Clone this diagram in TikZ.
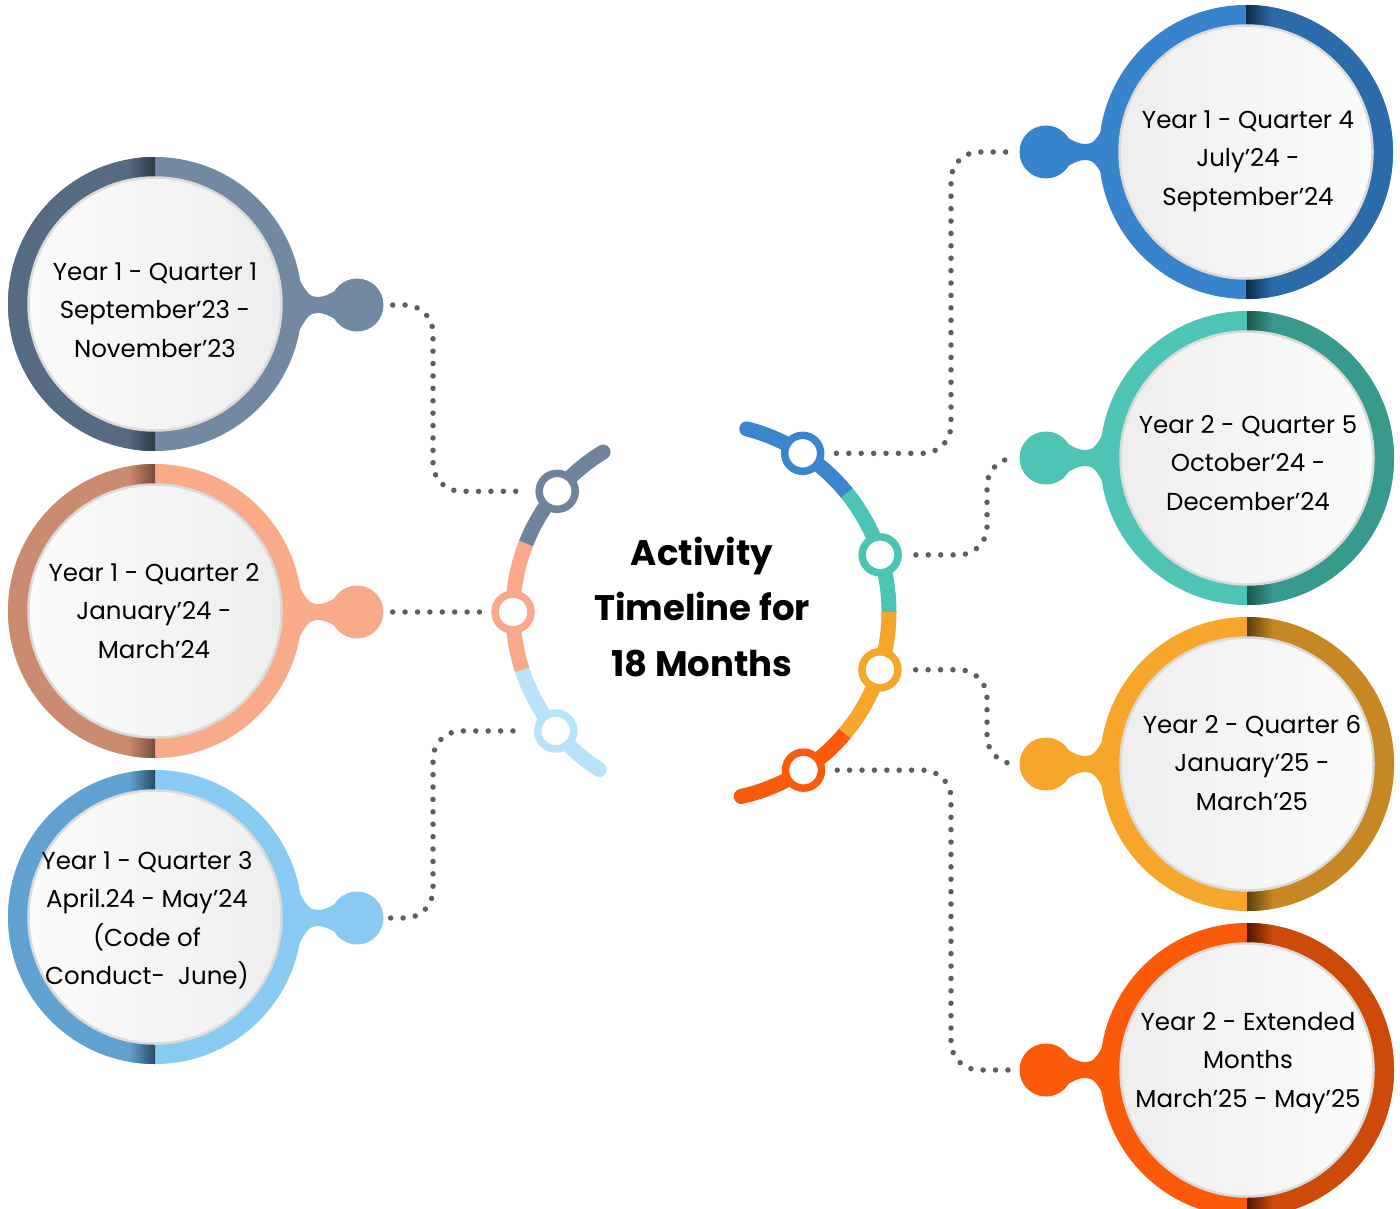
\documentclass[tikz,border=0pt]{standalone}
\usepackage{fontspec}
\setmainfont{Poppins}
\usetikzlibrary{calc}

% ring colours: base, shaded half, shade next to the split
\definecolor{slateA}{HTML}{7289A1}\definecolor{slateB}{HTML}{566A81}\definecolor{slateC}{HTML}{2C3845}
\definecolor{peachA}{HTML}{F9AA89}\definecolor{peachB}{HTML}{CB8B70}\definecolor{peachC}{HTML}{744B3B}
\definecolor{skyA}{HTML}{88CAF2}\definecolor{skyB}{HTML}{62A2D0}\definecolor{skyC}{HTML}{284A62}
\definecolor{blueA}{HTML}{3784CC}\definecolor{blueB}{HTML}{2C6BAA}\definecolor{blueC}{HTML}{0F2B48}
\definecolor{tealA}{HTML}{4DC4B4}\definecolor{tealB}{HTML}{389A8D}\definecolor{tealC}{HTML}{1C5650}
\definecolor{amberA}{HTML}{F6A62B}\definecolor{amberB}{HTML}{C78823}\definecolor{amberC}{HTML}{5A3F0D}
\definecolor{redA}{HTML}{FB5A0B}\definecolor{redB}{HTML}{CE4A0A}\definecolor{redC}{HTML}{4C1904}
% central arc colours
\definecolor{arcSlate}{HTML}{6E849C}
\definecolor{arcPeach}{HTML}{F9A98A}
\definecolor{arcSky}{HTML}{B9E3FA}
\definecolor{arcBlue}{HTML}{3A86CE}
\definecolor{arcTeal}{HTML}{4CC4B4}
\definecolor{arcAmber}{HTML}{F6A62B}
\definecolor{arcRed}{HTML}{FB5A0B}
\definecolor{dotgray}{HTML}{5E5E5E}
\definecolor{discLight}{HTML}{FBFBFB}
\definecolor{discDark}{HTML}{EEEEEE}
\definecolor{discEdge}{HTML}{DADADA}

% dial with the shaded half on the left: #1 centre, #2 base, #3 shaded half, #4 shade at the split
\newcommand\dialleft[4]{%
  \fill[#2] (#1) circle (147);
  \begin{scope}
    \clip (#1) circle (147);
    \fill[#3] ($(#1)+(-150,-150)$) rectangle ($(#1)+(0,150)$);
    \shade[left color=#3, right color=#4] ($(#1)+(-26,-150)$) rectangle ($(#1)+(0,150)$);
  \end{scope}
  \shade[left color=discLight, right color=discDark] (#1) circle (126);
  \draw[discEdge, line width=2.5] (#1) circle (126.5);
}
% dial with the shaded half on the right
\newcommand\dialright[4]{%
  \fill[#2] (#1) circle (147);
  \begin{scope}
    \clip (#1) circle (147);
    \fill[#3] ($(#1)+(0,-150)$) rectangle ($(#1)+(150,150)$);
    \shade[left color=#4, right color=#3] ($(#1)+(0,-150)$) rectangle ($(#1)+(26,150)$);
  \end{scope}
  \shade[left color=discDark, right color=discLight] (#1) circle (126);
  \draw[discEdge, line width=2.5] (#1) circle (126.5);
}
% neck joining a knob to its dial: #1 knob, #2 colour, #3 side (1: dial on the left, -1: on the right)
\newcommand\knobneck[3]{%
  \begin{scope}[shift={(#1.center)}, xscale=#3]
    \fill[#2] (-61,-32) .. controls (-51,-12) and (-47,-8) .. (-40,-8)
      .. controls (-32,-8) and (-28,-11) .. (-22,-14) -- (0,0) -- (-22,14)
      .. controls (-28,11) and (-32,8) .. (-40,8)
      .. controls (-47,8) and (-51,12) .. (-61,32) -- cycle;
  \end{scope}
}

\begin{document}
\begin{tikzpicture}[x=1pt, y=-1pt,
  knob/.style={circle, fill=#1, minimum size=53pt, inner sep=0pt},
  hub/.style={circle, draw=#1, fill=white, line width=7.5pt, minimum size=36pt, inner sep=0pt},
  dotline/.style={draw=dotgray, line width=5.5pt, line cap=round,
    dash pattern=on 0pt off 12.4pt, rounded corners=28pt},
  arcband/.style={line width=15pt, draw=#1},
  qtext/.style={align=center, text=black, font=\fontsize{24.5}{38.5}\selectfont},
  title/.style={align=center, text=black, font=\fontsize{35.5}{55.5}\selectfont\bfseries}
]
\useasboundingbox (0,0) rectangle (1400,1209);

% ---- central arcs -------------------------------------------------
\coordinate (ctr) at (700,612);
\draw[arcband=arcSlate, line cap=round] ($(ctr)+(-121.2:187)$) arc[start angle=-121.2, end angle=-158.5, radius=187];
\draw[arcband=arcSky, line cap=round] ($(ctr)+(-198:187)$) arc[start angle=-198, end angle=-237.4, radius=187];
\draw[arcband=arcPeach] ($(ctr)+(-158.5:187)$) arc[start angle=-158.5, end angle=-198, radius=187];

\draw[arcband=arcBlue, line cap=round] ($(ctr)+(-75.7:189)$) arc[start angle=-75.7, end angle=-39, radius=189];
\draw[arcband=arcRed, line cap=round] ($(ctr)+(40:189)$) arc[start angle=40, end angle=77.4, radius=189];
\draw[arcband=arcTeal] ($(ctr)+(-39:189)$) arc[start angle=-39, end angle=0, radius=189];
\draw[arcband=arcAmber] ($(ctr)+(0:189)$) arc[start angle=0, end angle=40, radius=189];

% stops on the arcs
\node[hub=arcSlate] (h1) at ($(ctr)+(-139.8:187)$) {};
\node[hub=arcPeach] (h2) at ($(ctr)+(180:187)$) {};
\node[hub=arcSky]   (h3) at ($(ctr)+(140.5:187)$) {};
\node[hub=arcBlue]  (h4) at ($(ctr)+(-57.1:189)$) {};
\node[hub=arcTeal]  (h5) at ($(ctr)+(-17.6:189)$) {};
\node[hub=arcAmber] (h6) at ($(ctr)+(17.8:189)$) {};
\node[hub=arcRed]   (h7) at ($(ctr)+(56.8:189)$) {};

\node[title] (title) at (702,607) {Activity\\Timeline for\\18 Months};

% ---- dials ----------------------------------------------------------
\coordinate (c1) at (155,304);
\coordinate (c2) at (155,611);
\coordinate (c3) at (155,917);
\coordinate (c4) at (1246,152);
\coordinate (c5) at (1247,458);
\coordinate (c6) at (1247,764);
\coordinate (c7) at (1247,1070);

\node[knob=slateA] (k1) at (357,305) {};
\node[knob=peachA] (k2) at (357,612) {};
\node[knob=skyA]   (k3) at (357,918) {};
\node[knob=blueA]  (k4) at (1046,152) {};
\node[knob=tealA]  (k5) at (1046,458) {};
\node[knob=amberA] (k6) at (1046,764) {};
\node[knob=redA]   (k7) at (1046,1070) {};

\knobneck{k1}{slateA}{1}
\knobneck{k2}{peachA}{1}
\knobneck{k3}{skyA}{1}
\knobneck{k4}{blueA}{-1}
\knobneck{k5}{tealA}{-1}
\knobneck{k6}{amberA}{-1}
\knobneck{k7}{redA}{-1}

\dialleft{c1}{slateA}{slateB}{slateC}
\dialleft{c2}{peachA}{peachB}{peachC}
\dialleft{c3}{skyA}{skyB}{skyC}
\dialright{c4}{blueA}{blueB}{blueC}
\dialright{c5}{tealA}{tealB}{tealC}
\dialright{c6}{amberA}{amberB}{amberC}
\dialright{c7}{redA}{redB}{redC}

\node[qtext] (t1) at (155,310) {Year 1 - Quarter 1\\September’23 -\\November’23};
\node[qtext] (t2) at (154,611) {Year 1 - Quarter 2\\January’24 -\\March’24};
\node[qtext] (t3) at (147,920) {Year 1 - Quarter 3\\April.24 - May’24\\(Code of\\Conduct-~~June)};
\node[qtext] (t4) at (1248,161) {Year 1 - Quarter 4\\July’24 -\\September’24};
\node[qtext] (t5) at (1248,463) {Year 2 - Quarter 5\\October’24 -\\December’24};
\node[qtext] (t6) at (1252,763) {Year 2 - Quarter 6\\January’25 -\\March’25};
\node[qtext] (t7) at (1248,1063) {Year 2 - Extended\\Months\\March’25 - May’25};

% ---- dotted connectors ---------------------------------------------
\coordinate (vl) at (433,0);
\coordinate (vr) at (951,0);
\coordinate (vm) at (987,0);

\draw[dotline, shorten <=9pt, shorten >=13pt] (k1.east) -- (k1.east -| vl) -- (h1.west -| vl) -- (h1.west);
\draw[dotline, shorten <=9pt, shorten >=9pt] (k2.east) -- (h2.west);
\draw[dotline, shorten <=7pt, shorten >=13pt] (k3.east) -- (k3.east -| vl) -- (h3.west -| vl) -- (h3.west);

\draw[dotline, shorten <=12pt, shorten >=3pt] (h4.east) -- (h4.east -| vr) -- (k4.west -| vr) -- (k4.west);
\draw[dotline, shorten <=14pt, shorten >=3pt] (h5.east) -- (h5.east -| vm) -- (k5.west -| vm) -- (k5.west);
\draw[dotline, shorten <=14pt, shorten >=3pt] (h6.east) -- (h6.east -| vm) -- (k6.west -| vm) -- (k6.west);
\draw[dotline, shorten <=12pt, shorten >=3pt] (h7.east) -- (h7.east -| vr) -- (k7.west -| vr) -- (k7.west);
\end{tikzpicture}
\end{document}
